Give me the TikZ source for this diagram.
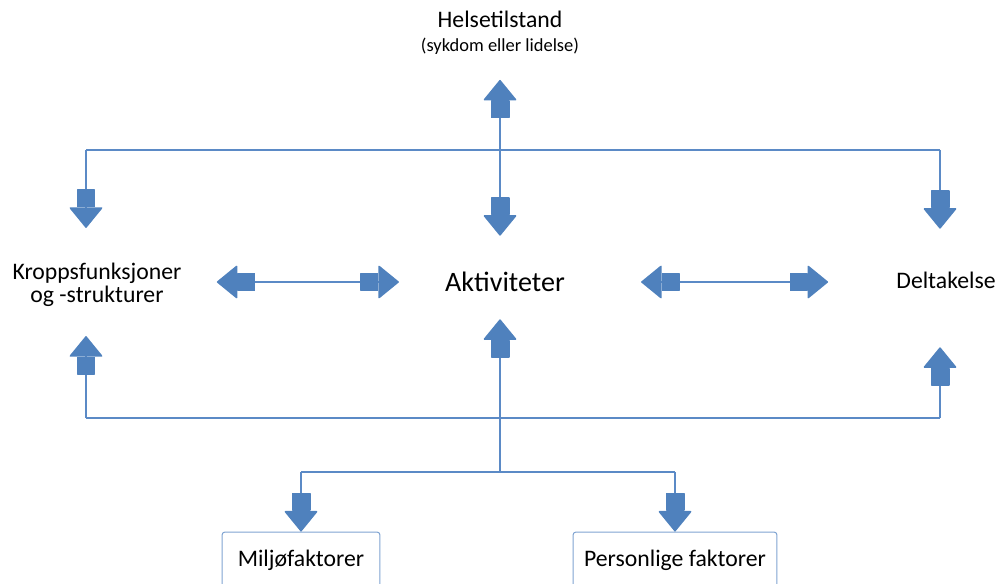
\documentclass[tikz,border=0pt]{standalone}
\usepackage{fontspec}
\setmainfont{Carlito}
\usetikzlibrary{arrows.meta}
\definecolor{icfblue}{HTML}{4F81BD}
\definecolor{icfline}{HTML}{5B8AC6}
\definecolor{icfbox}{HTML}{7FA3D1}
\tikzset{
  blk/.tip={Rectangle[width=0.38cm,length=0.36cm,sep=0pt,round,color=icfblue]Triangle[width=0.68cm,length=0.42cm,sep=0pt,round,color=icfblue]},
}

\begin{document}
\begin{tikzpicture}[x=0.02cm,y=-0.02cm,
    lbl/.style={inner sep=0pt,font=\fontsize{13.5}{13.5}\selectfont},
    conn/.style={draw=icfline,line width=0.03cm},
    box/.style={lbl,draw=icfbox,line width=0.02cm,rounded corners=0.06cm,anchor=base,
      inner ysep=0.18cm,text height=0.5cm,text depth=1cm}]
  \useasboundingbox (0,0) rectangle (1000,584);
  \clip (0,0) rectangle (1000,584);

  % texts
  \node[lbl,align=center] (helse) at (500,33) {Helsetilstand\\[0pt]{\fontsize{10.5}{10.5}\selectfont (sykdom eller lidelse)}};
  \node[lbl,font=\fontsize{16}{16}\selectfont,text height=0.4cm,text depth=0pt] (akt) at (505,282) {Aktiviteter};
  \node[lbl,align=center] (kropp) at (97,285) {Kroppsfunksjoner\\[-0.4pt]og -strukturer};
  \node[lbl,text height=0.3cm,text depth=0pt] (delta) at (946,281) {Deltakelse};
  \node[box,minimum width=3.16cm] (miljo) at (301,566) {Miljøfaktorer};
  \node[box,minimum width=4.08cm] (pers) at (675,566) {Personlige faktorer};

  % junctions
  \coordinate (jtl) at (86,150);
  \coordinate (jtr) at (940,150);
  \coordinate (jbl) at (86,418);
  \coordinate (jbr) at (940,418);
  \coordinate (jmid) at (500,472);

  % upper part
  \draw[conn] (jtl) -- (jtr);
  \draw[conn,{blk}-{blk},shorten <=0.5cm,shorten >=0.72cm] (helse.south) -- (helse.south |- akt.north);
  \draw[conn,-{blk},shorten >=0.7cm] (jtl) -- (jtl |- kropp.north);
  \draw[conn,-{blk},shorten >=0.89cm] (jtr) -- (jtr |- delta.north);

  % side arrows
  \draw[conn,{blk}-{blk},shorten <=0.7cm,shorten >=0.92cm] (kropp.east |- akt.west) -- (akt.west);
  \draw[conn,{blk}-{blk},shorten <=1.52cm,shorten >=1.36cm] (akt.east) -- (delta.west |- akt.east);

  % lower part
  \draw[conn] (jbl) -- (jbr);
  \draw[conn,-{blk},shorten >=0.58cm] (jbl) -- (jbl |- kropp.south);
  \draw[conn,-{blk},shorten >=1.17cm] (jbr) -- (jbr |- delta.south);
  \draw[conn,-{blk},shorten >=0.54cm] (jmid) -- (jmid |- akt.south);
  \draw[conn] (miljo.north |- jmid) -- (pers.north |- jmid);
  \foreach \b in {miljo,pers} {
    \draw[conn,-{blk}] (\b.north |- jmid) -- (\b.north);
  }
\end{tikzpicture}
\end{document}
